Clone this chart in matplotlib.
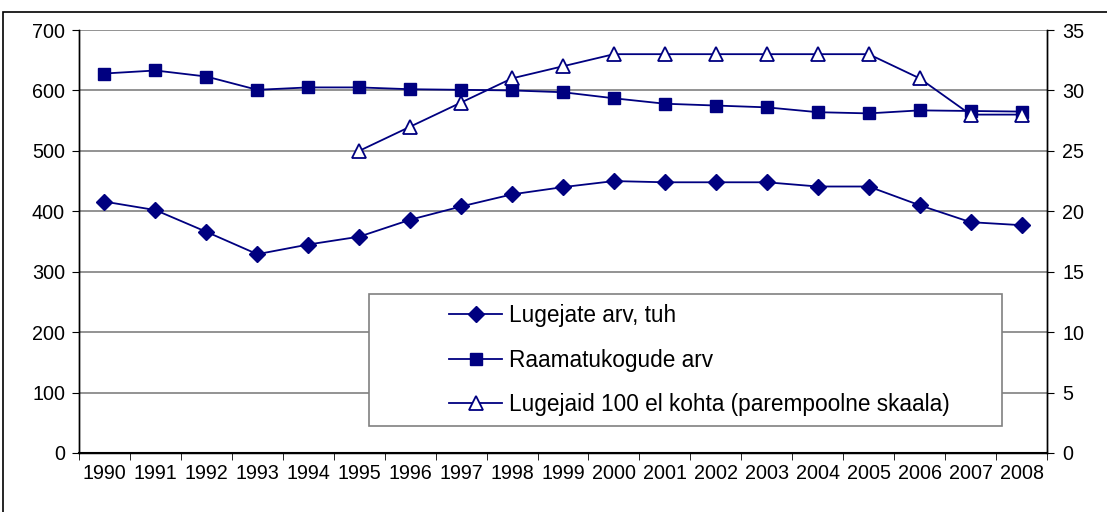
import matplotlib
matplotlib.use("Agg")
import matplotlib.pyplot as plt
from matplotlib.patches import Rectangle
from matplotlib.ticker import FixedLocator
import numpy as np

plt.rcParams['font.family'] = ['Liberation Sans', 'DejaVu Sans']

years = ['1990', '1991', '1992', '1993', '1994', '1995', '1996', '1997', '1998', '1999',
         '2000', '2001', '2002', '2003', '2004', '2005', '2006', '2007', '2008']
readers = [416, 402, 366, 329, 345, 358, 386, 408, 428, 440,
           450, 448, 448, 448, 441, 441, 410, 382, 377]
libraries = [628, 633, 623, 601, 605, 605, 602, 601, 600, 597,
             587, 578, 575, 572, 564, 562, 567, 566, 565]
per100 = [None, None, None, None, None, 25, 27, 29, 31, 32,
          33, 33, 33, 33, 33, 33, 31, 28, 28]

labels = ['Lugejate arv, tuh', 'Raamatukogude arv',
          'Lugejaid 100 el kohta (parempoolne skaala)']

navy = '#000080'
W, H = 1107, 512
fig = plt.figure(figsize=(W / 100, H / 100), dpi=100)
L, R, T, B = 79, 1047, 30, 453
ax = fig.add_axes([L / W, 1 - B / H, (R - L) / W, (B - T) / H])
ax2 = ax.twinx()

x = np.arange(len(years))
p100 = np.array([np.nan if v is None else v for v in per100], dtype=float)

l1, = ax.plot(x, readers, color=navy, lw=1.3, marker='D', ms=8, mfc=navy, mec=navy)
l2, = ax.plot(x, libraries, color=navy, lw=1.3, marker='s', ms=9, mfc=navy, mec=navy)
l3, = ax2.plot(x, p100, color=navy, lw=1.3, marker='^', ms=9.5, mfc='white', mec=navy, mew=1.3)

ax.set_xlim(-0.5, len(years) - 0.5)
ax.set_ylim(0, 700)
ax2.set_ylim(0, 35)
ax.set_yticks(range(0, 701, 100))
ax2.set_yticks(range(0, 36, 5))
ax.set_xticks(x)
ax.set_xticklabels(years)
ax.xaxis.set_minor_locator(FixedLocator(np.arange(-0.5, len(years), 1)))
ax.tick_params(axis='x', which='major', length=0, pad=8, labelsize=14.2)
ax.tick_params(axis='x', which='minor', length=5, direction='out', color='black')
ax.tick_params(axis='y', length=5, direction='out', labelsize=14.2, pad=5)
ax2.tick_params(axis='y', length=5, direction='out', labelsize=14.2, pad=6)

ax.grid(axis='y', color='#808080', lw=1.2)
ax.set_axisbelow(True)
for a in (ax, ax2):
    a.spines['top'].set_visible(False)
    for s in ('left', 'right', 'bottom'):
        a.spines[s].set_color('black')
        a.spines[s].set_linewidth(1.0)
ax.spines['bottom'].set_linewidth(1.5)

# legend box (reference pixel box 369..1002 x 294..426)
box = Rectangle((369 / W, 1 - 426 / H), (1002 - 369) / W, (426 - 294) / H,
                transform=fig.transFigure, facecolor='white',
                edgecolor='#808080', lw=1.2, zorder=5)
fig.patches.append(box)

leg = fig.legend([l1, l2, l3], labels, loc='center left',
                 bbox_to_anchor=(449 / W, 1 - 360 / H),
                 frameon=False, fontsize=16.3,
                 handlelength=2.35, handletextpad=0.3, labelspacing=0.94,
                 borderpad=0, borderaxespad=0)
leg.set_zorder(10)

fig.patches.append(Rectangle((3 / W, -0.01), 1.02, (H - 12) / H + 0.01,
                             transform=fig.transFigure, fill=False,
                             edgecolor='black', lw=1.2))

fig.savefig('out.png', dpi=100)
